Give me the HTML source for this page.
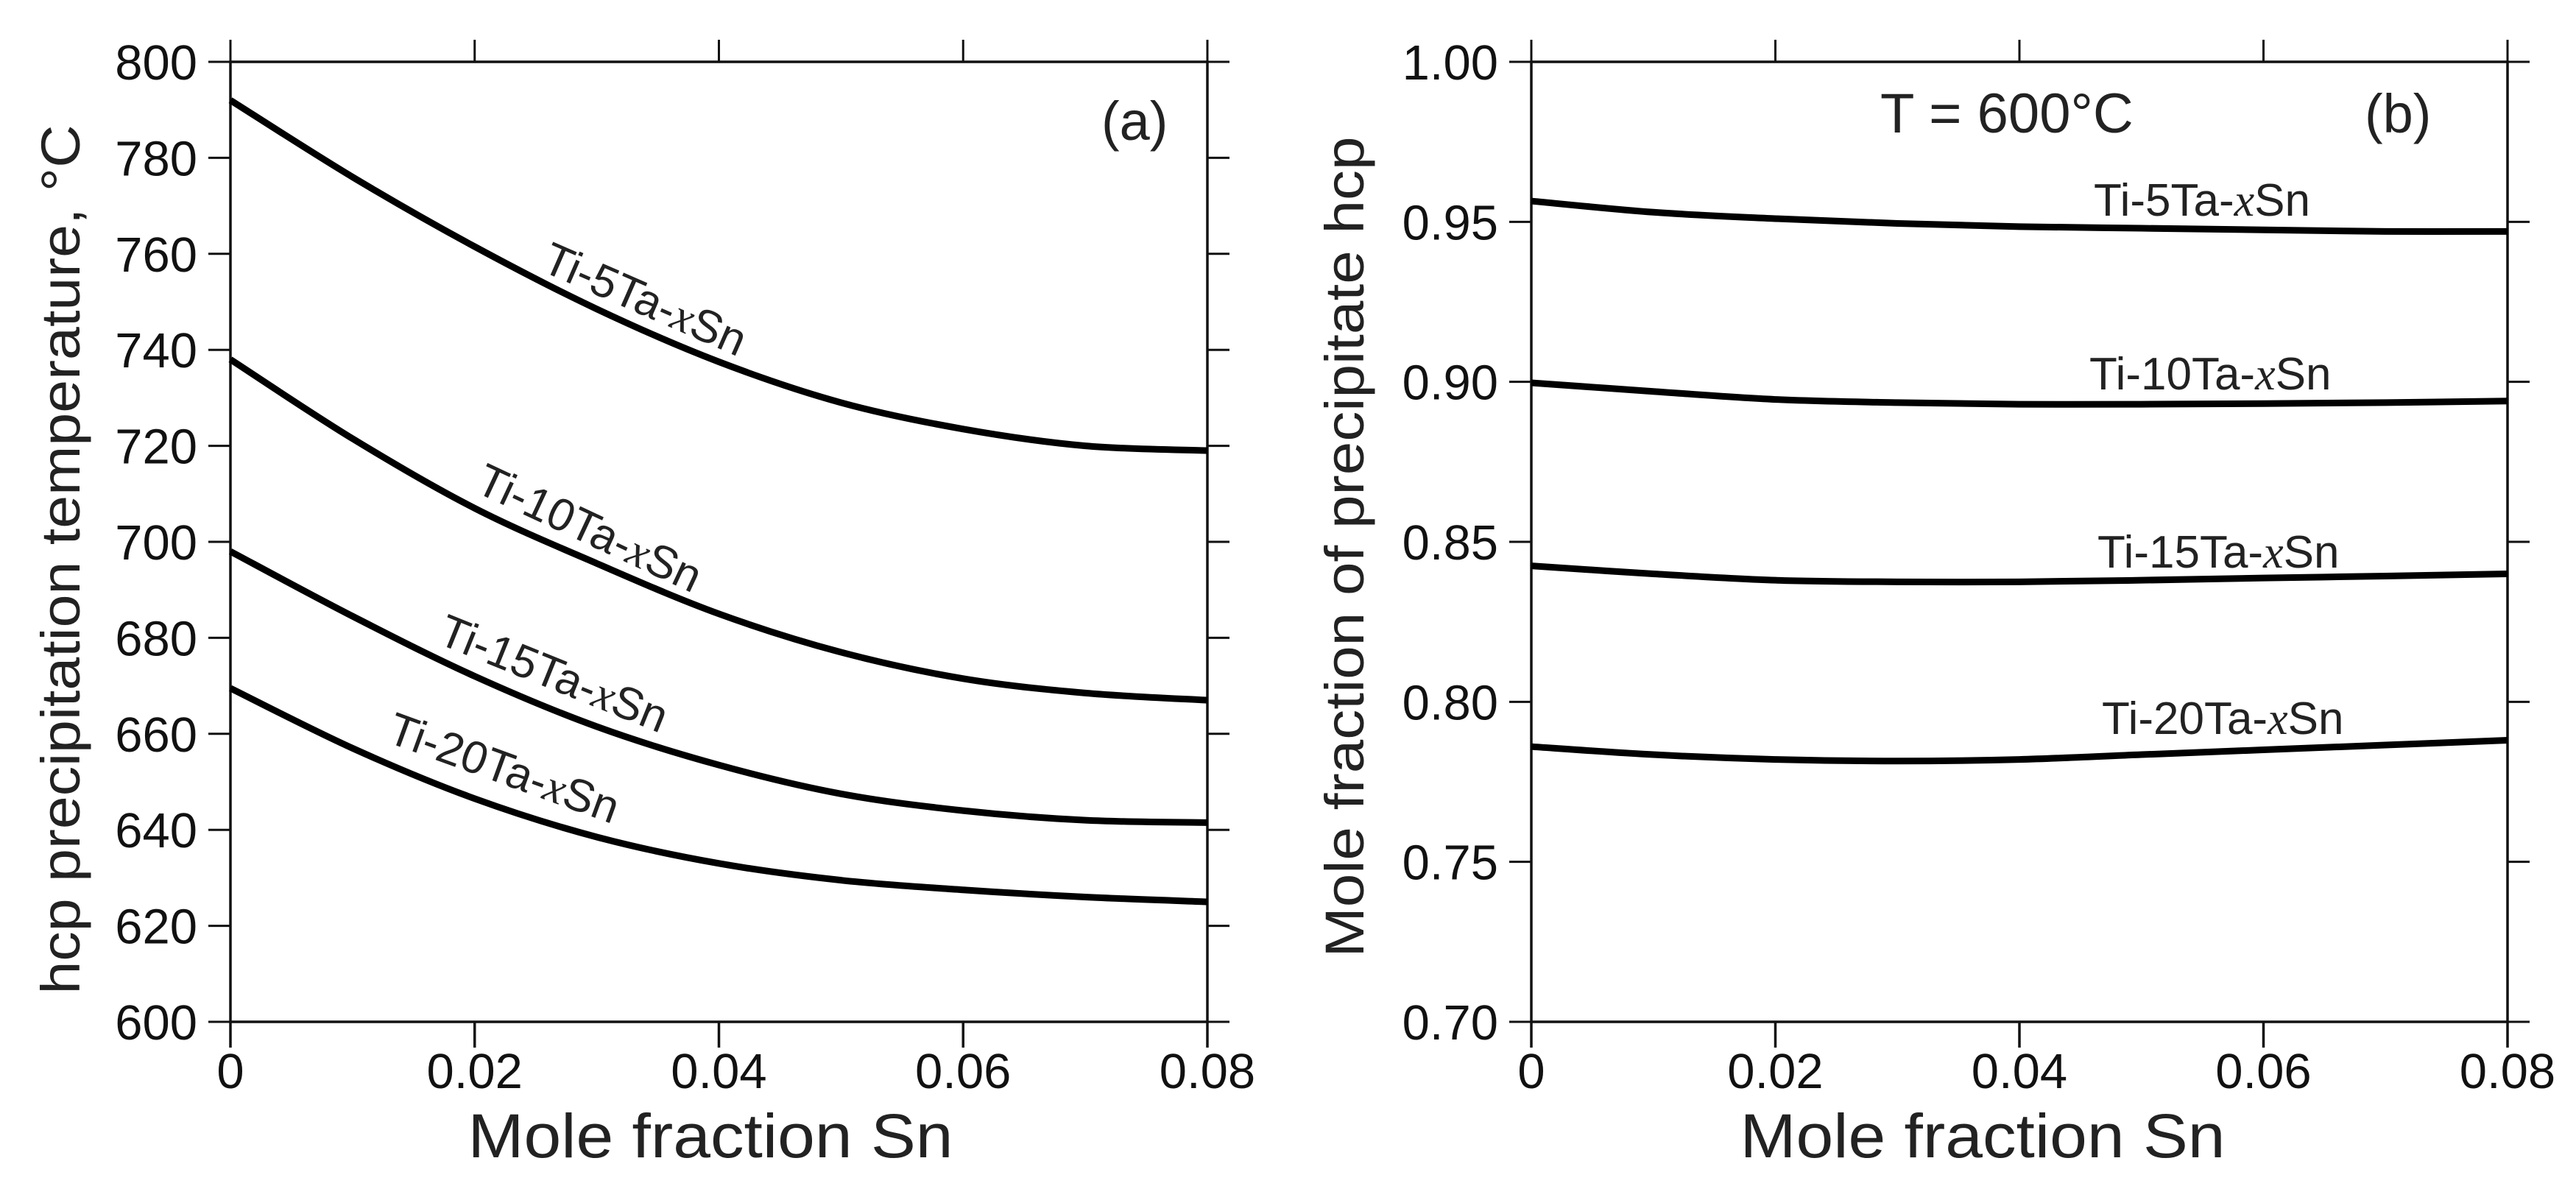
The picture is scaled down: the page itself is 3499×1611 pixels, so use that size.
<!DOCTYPE html>
<html><head><meta charset="utf-8"><style>html,body{margin:0;padding:0;background:#fff}svg{display:block}</style></head>
<body>
<svg id="fig" width="3499" height="1611" viewBox="0 0 3499 1611" xmlns="http://www.w3.org/2000/svg" font-family="Liberation Sans, Arial, sans-serif">
<rect width="3499" height="1611" fill="#fff"/>
<g id="pa"></g>
<g id="pb"></g>
</svg>
<script>
const xTicks = [0, 0.02, 0.04, 0.06, 0.08];
const xTickLabels = ["0", "0.02", "0.04", "0.06", "0.08"];
const xs = [0, 0.01, 0.02, 0.03, 0.04, 0.05, 0.06, 0.07, 0.08];
const aYTicks = [600, 620, 640, 660, 680, 700, 720, 740, 760, 780, 800];
const aTi5 = [792, 776, 761.5, 748.5, 737.5, 729, 723.5, 720, 719];
const aTi10 = [738, 721.5, 707, 695.5, 685, 677, 671.5, 668.5, 667];
const aTi15 = [698, 684.5, 672, 661.5, 653.5, 647.5, 644, 642, 641.5];
const aTi20 = [669.5, 657, 646.5, 638.5, 633, 629.5, 627.5, 626, 625];
const bYTicks = [0.70, 0.75, 0.80, 0.85, 0.90, 0.95, 1.00];
const bYTickLabels = ["0.70", "0.75", "0.80", "0.85", "0.90", "0.95", "1.00"];
const bTi5 = [0.9565, 0.953, 0.951, 0.9495, 0.9485, 0.948, 0.9475, 0.947, 0.947];
const bTi10 = [0.8997, 0.897, 0.8945, 0.8935, 0.893, 0.893, 0.8932, 0.8935, 0.894];
const bTi15 = [0.8425, 0.840, 0.838, 0.8375, 0.8375, 0.838, 0.8387, 0.8393, 0.840];
const bTi20 = [0.786, 0.7835, 0.782, 0.7815, 0.782, 0.7835, 0.785, 0.7865, 0.788];

const NS = "http://www.w3.org/2000/svg";
function mk(parent, tag, attrs) {
  const e = document.createElementNS(NS, tag);
  for (const k in attrs) e.setAttribute(k, attrs[k]);
  parent.appendChild(e);
  return e;
}
function smooth(pts) {
  let d = "M" + pts[0][0] + "," + pts[0][1];
  for (let i = 0; i < pts.length - 1; i++) {
    const p0 = pts[Math.max(0, i - 1)], p1 = pts[i], p2 = pts[i + 1], p3 = pts[Math.min(pts.length - 1, i + 2)];
    const c1x = p1[0] + (p2[0] - p0[0]) / 6, c1y = p1[1] + (p2[1] - p0[1]) / 6;
    const c2x = p2[0] - (p3[0] - p1[0]) / 6, c2y = p2[1] - (p3[1] - p1[1]) / 6;
    d += " C" + c1x + "," + c1y + " " + c2x + "," + c2y + " " + p2[0] + "," + p2[1];
  }
  return d;
}
function panel(g, L, R, T, B, ymin, ymax, yTicks, yLabels, series, names) {
  const sx = v => L + (v - 0) / 0.08 * (R - L);
  const sy = v => B - (v - ymin) / (ymax - ymin) * (B - T);
  const tl = 30;
  const fr = mk(g, "rect", {x: L, y: T, width: R - L, height: B - T, fill: "none", stroke: "#111", "stroke-width": 3.5});
  
  
  xTicks.forEach((v, i) => {
    const x = sx(v);
    const t1 = mk(g, "line", {x1: x, y1: B, x2: x, y2: B + tl + 5, stroke: "#111", "stroke-width": 3.5});
    
    
    const t2 = mk(g, "line", {x1: x, y1: T, x2: x, y2: T - tl, stroke: "#111", "stroke-width": 3});
    
    
    const lb = mk(g, "text", {x: x, y: 1478, "font-size": 67, "text-anchor": "middle", fill: "#111"});
    lb.textContent = xTickLabels[i];
    
    
  });
  yTicks.forEach((v, i) => {
    const y = sy(v);
    const t1 = mk(g, "line", {x1: L - tl, y1: y, x2: L, y2: y, stroke: "#111", "stroke-width": 3});
    
    
    const t2 = mk(g, "line", {x1: R, y1: y, x2: R + tl, y2: y, stroke: "#111", "stroke-width": 3});
    
    
    const lb = mk(g, "text", {x: L - tl - 15, y: y + 24, "font-size": 67, "text-anchor": "end", fill: "#111"});
    lb.textContent = yLabels[i];
    
    
  });
  series.forEach((s, k) => {
    const pts = xs.map((x, i) => [sx(x), sy(s[i])]);
    const p = mk(g, "path", {d: smooth(pts), fill: "none", stroke: "#000", "stroke-width": 9, "stroke-linecap": "butt"});
    
    
  });
}
const ga = document.getElementById("pa"), gb = document.getElementById("pb");
panel(ga, 313, 1640, 84, 1388, 600, 800, aYTicks, aYTicks.map(String), [aTi5, aTi10, aTi15, aTi20], ["line-ti-5ta", "line-ti-10ta", "line-ti-15ta", "line-ti-20ta"]);
panel(gb, 2080, 3406, 84, 1388, 0.70, 1.00, bYTicks, bYTickLabels, [bTi5, bTi10, bTi15, bTi20], ["line-ti-5ta", "line-ti-10ta", "line-ti-15ta", "line-ti-20ta"]);

function label(g, x, y, ang, num, size, name) {
  const t = mk(g, "text", {x: x, y: y, "font-size": size, fill: "#222", transform: "rotate(" + ang + " " + x + " " + y + ")"});
  t.innerHTML = 'Ti-' + num + 'Ta-<tspan font-family="Liberation Serif, serif" font-style="italic">x</tspan>Sn';
  
  
}
label(ga, 733, 367, 23.6, 5, 62, "label-ti-5ta");
label(ga, 643, 667, 25, 10, 62, "label-ti-10ta");
label(ga, 592, 873, 22, 15, 62, "label-ti-15ta");
label(ga, 523, 1007, 20, 20, 62, "label-ti-20ta");
label(gb, 2844, 293, 0, 5, 62, "label-ti-5ta");
label(gb, 2838, 529, 0, 10, 62, "label-ti-10ta");
label(gb, 2849, 771, 0, 15, 62, "label-ti-15ta");
label(gb, 2855, 997, 0, 20, 62, "label-ti-20ta");

function txt(g, x, y, s, size, anchor, name, rot, len) {
  const a = {x: x, y: y, "font-size": size, "text-anchor": anchor, fill: "#222"};
  if (rot) a.transform = "rotate(" + rot + " " + x + " " + y + ")";
  if (len) { a.textLength = len; a.lengthAdjust = "spacingAndGlyphs"; }
  const t = mk(g, "text", a);
  t.textContent = s;
  
  
}
txt(ga, 1496, 190, "(a)", 74, "start", "panel-label-a");
txt(gb, 3212, 180, "(b)", 74, "start", "panel-label-b");
txt(gb, 2554, 180, "T = 600°C", 76, "start", "temperature-annotation");
txt(ga, 965, 1572, "Mole fraction Sn", 84, "middle", "x-axis-title", 0, 659);
txt(gb, 2693, 1572, "Mole fraction Sn", 84, "middle", "x-axis-title", 0, 659);
txt(ga, 108, 760, "hcp precipitation temperature, °C", 74, "middle", "y-axis-title", -90, 1181);
txt(gb, 1852, 743, "Mole fraction of precipitate hcp", 74, "middle", "y-axis-title", -90, 1115);
</script>
</body></html>
